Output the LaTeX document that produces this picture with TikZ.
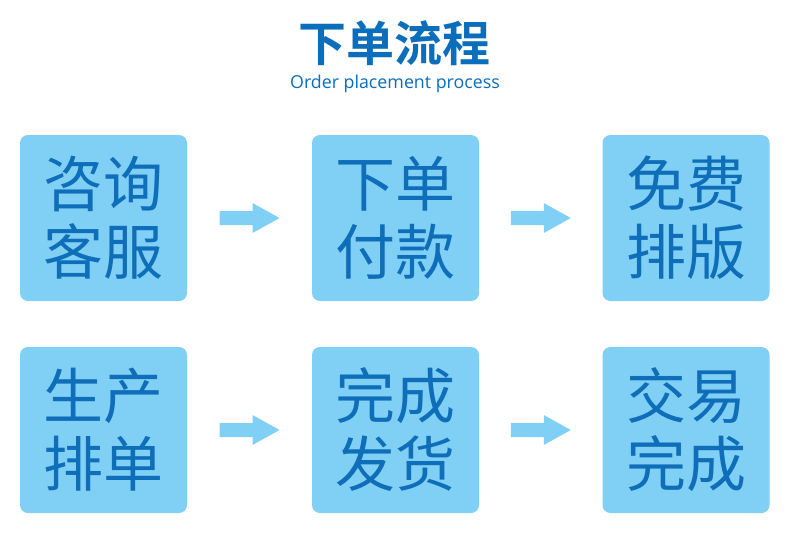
\documentclass[tikz,border=0pt]{standalone}
\usepackage{fontspec}
\newfontfamily\cjk{Noto Sans CJK SC}
\newfontfamily\cjkbold{Noto Sans CJK SC Bold}
\newfontfamily\subfont{Open Sans}
\definecolor{boxfill}{HTML}{80D0F5}
\definecolor{txtblue}{HTML}{0F6EB9}
\definecolor{titleblue}{HTML}{0A6EBD}
\begin{document}
\begin{tikzpicture}[x=1pt,y=-1pt,
  stepbox/.style={fill=boxfill,rounded corners=8pt,minimum width=167pt,minimum height=166pt,inner sep=0pt,
    text=txtblue,align=center,font=\cjk\fontsize{60}{68}\selectfont}
]
\useasboundingbox (0,0) rectangle (790,552);
\fill[white] (0,0) rectangle (790,552);
\node[text=titleblue,font=\cjkbold\fontsize{48}{50}\selectfont] (title) at (394,43) {下单流程};
\node[text=titleblue,font=\subfont\fontsize{17.8}{20}\selectfont] (sub) at (395,84) {Order placement process};
\node[stepbox] (b1) at (103.5,218) {咨询\\客服};
\node[stepbox] (b2) at (395.5,218) {下单\\付款};
\node[stepbox] (b3) at (686,218) {免费\\排版};
\node[stepbox] (b4) at (103.5,430) {生产\\排单};
\node[stepbox] (b5) at (395.5,430) {完成\\发货};
\node[stepbox] (b6) at (686,430) {交易\\完成};
\foreach \a/\b/\c in {b1/b2/r1a,b2/b3/r1b,b4/b5/r2a,b5/b6/r2b}{
  \path (\a.east) -- (\b.west) coordinate[midway] (\c);
  \fill[boxfill] ([xshift=-30pt,yshift=-7pt]\c) -- ([xshift=3pt,yshift=-7pt]\c) -- ([xshift=3pt,yshift=-15pt]\c)
    -- ([xshift=30pt]\c) -- ([xshift=3pt,yshift=15pt]\c) -- ([xshift=3pt,yshift=7pt]\c) -- ([xshift=-30pt,yshift=7pt]\c) -- cycle;
}
\end{tikzpicture}
\end{document}
